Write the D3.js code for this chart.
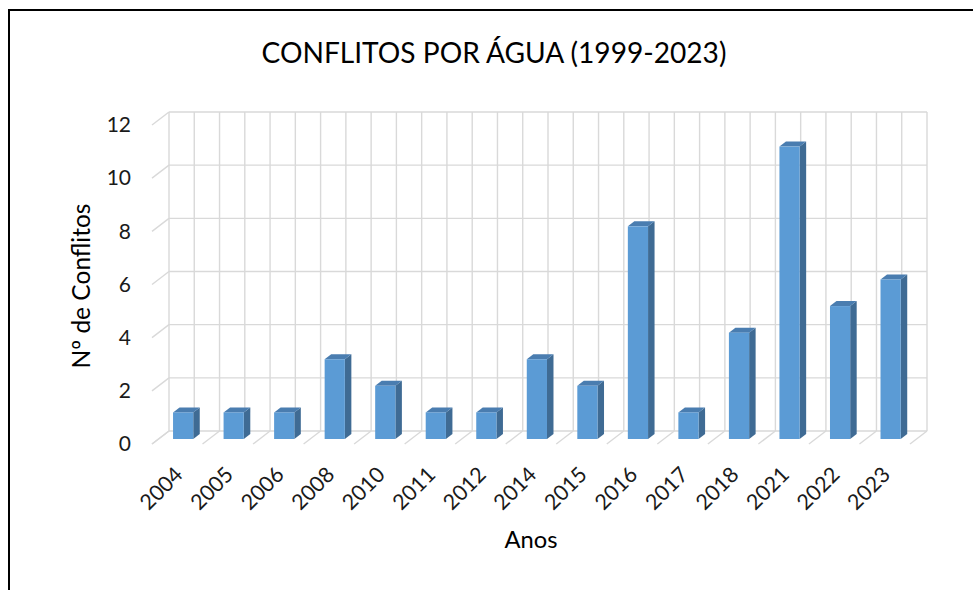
<!DOCTYPE html>
<html>
<head>
<meta charset="utf-8">
<script src="https://cdn.jsdelivr.net/npm/d3@7"></script>
<style>
  body { margin: 0; background: #fff; }
  svg { display: block; font-family: Lato, 'Open Sans', sans-serif; }
</style>
</head>
<body>
<svg class="chart" width="973" height="590"></svg>
<script>
const years = ['2004', '2005', '2006', '2008', '2010', '2011', '2012', '2014', '2015', '2016', '2017', '2018', '2021', '2022', '2023'];
const conflicts = [1, 1, 1, 3, 2, 1, 1, 3, 2, 8, 1, 4, 11, 5, 6];
const yTicks = [0, 2, 4, 6, 8, 10, 12];

const title = 'CONFLITOS POR ÁGUA (1999-2023)';
const yTitle = 'Nº de Conflitos';
const xTitle = 'Anos';

const [width, height] = [973, 590];
// back wall of the 3d plot, front is shifted by depth
const wall = { left: 169, right: 927, top: 112, bottom: 431 };
const depth = { dx: -17, dy: 13 };
const barDepth = { dx: 6.5, dy: -5 };
const barDrop = 8; // bar front sits between wall and floor front

const svg = d3.select('.chart').attr('viewBox', `0 0 ${width} ${height}`);

const x = d3.scaleBand().domain(years).range([wall.left, wall.right]).padding(0);
const y = d3.scaleLinear().domain([0, 12]).range([wall.bottom, wall.top]);
const bw = x.bandwidth();

// frame
svg.append('rect')
  .attr('x', 9).attr('y', 10)
  .attr('width', width + 20).attr('height', height + 20)
  .attr('fill', 'none').attr('stroke', '#000').attr('stroke-width', 2);

const grid = svg.append('g').attr('stroke', '#d9d9d9').attr('stroke-width', 1.4).attr('fill', 'none');

// horizontal gridlines on the back wall + diagonal on the side wall
grid.selectAll('.h').data(yTicks).enter().append('line')
  .attr('x1', wall.left).attr('x2', wall.right)
  .attr('y1', (d) => y(d)).attr('y2', (d) => y(d));
grid.selectAll('.d').data(yTicks).enter().append('line')
  .attr('x1', wall.left + depth.dx).attr('x2', wall.left)
  .attr('y1', (d) => y(d) + depth.dy).attr('y2', (d) => y(d));

// vertical gridlines every half category
const halfSteps = d3.range(years.length * 2 + 1);
grid.selectAll('.v').data(halfSteps).enter().append('line')
  .attr('x1', (i) => wall.left + i * bw / 2).attr('x2', (i) => wall.left + i * bw / 2)
  .attr('y1', wall.top).attr('y2', wall.bottom);

// floor diagonals at category boundaries
grid.selectAll('.f').data(d3.range(years.length + 1)).enter().append('line')
  .attr('x1', (i) => wall.left + i * bw).attr('x2', (i) => wall.left + i * bw + depth.dx)
  .attr('y1', wall.bottom).attr('y2', wall.bottom + depth.dy);

// bars
const bars = svg.append('g').selectAll('g').data(years).enter().append('g');
const bx = (d) => x(d) + bw * 0.08;
const bWidth = bw * 0.4;
const bBottom = y(0) + barDrop;
const bTop = (d, i) => y(conflicts[i]) + barDrop;

bars.append('polygon')
  .attr('fill', '#3f6b94')
  .attr('points', (d, i) => {
    const x1 = bx(d) + bWidth;
    return [[x1, bTop(d, i)], [x1 + barDepth.dx, bTop(d, i) + barDepth.dy],
      [x1 + barDepth.dx, bBottom + barDepth.dy], [x1, bBottom]].join(' ');
  });
bars.append('polygon')
  .attr('fill', '#4a7db0')
  .attr('points', (d, i) => {
    const x0 = bx(d);
    const t = bTop(d, i);
    return [[x0, t], [x0 + bWidth, t], [x0 + bWidth + barDepth.dx, t + barDepth.dy],
      [x0 + barDepth.dx, t + barDepth.dy]].join(' ');
  });
bars.append('rect')
  .attr('fill', '#5b9bd5')
  .attr('x', bx).attr('width', bWidth)
  .attr('y', bTop).attr('height', (d, i) => bBottom - bTop(d, i));

// y axis labels
const yAxis = d3.axisLeft(y).tickValues(yTicks).tickSize(0).tickPadding(0);
svg.append('g')
  .attr('transform', `translate(${wall.left + depth.dx - 21},${depth.dy})`)
  .call(yAxis)
  .call((g) => g.select('.domain').remove())
  .call((g) => g.selectAll('text').attr('font-size', 21).attr('fill', '#1a1a1a').attr('font-family', 'Lato'));

// x axis labels
svg.append('g').selectAll('text').data(years).enter().append('text')
  .attr('transform', (d) => `translate(${bx(d) + bWidth / 2 + 1},476) rotate(-45)`)
  .attr('text-anchor', 'end')
  .attr('font-size', 21.5)
  .attr('fill', '#1a1a1a')
  .text((d) => d);

const fit = (sel, target) => {
  const w = sel.node().getComputedTextLength();
  const fs = parseFloat(sel.attr('font-size'));
  sel.attr('font-size', fs * target / w);
};

svg.append('text')
  .attr('x', 494).attr('y', 63)
  .attr('text-anchor', 'middle').attr('font-size', 28).attr('fill', '#000')
  .text(title)
  .call((s) => fit(s, 465));

svg.append('text')
  .attr('transform', 'translate(90,286) rotate(-90)')
  .attr('text-anchor', 'middle').attr('font-size', 22).attr('fill', '#000')
  .text(yTitle)
  .call((s) => fit(s, 165));

svg.append('text')
  .attr('x', 531).attr('y', 548)
  .attr('text-anchor', 'middle').attr('font-size', 22).attr('fill', '#000')
  .text(xTitle)
  .call((s) => fit(s, 53));
</script>
</body>
</html>
